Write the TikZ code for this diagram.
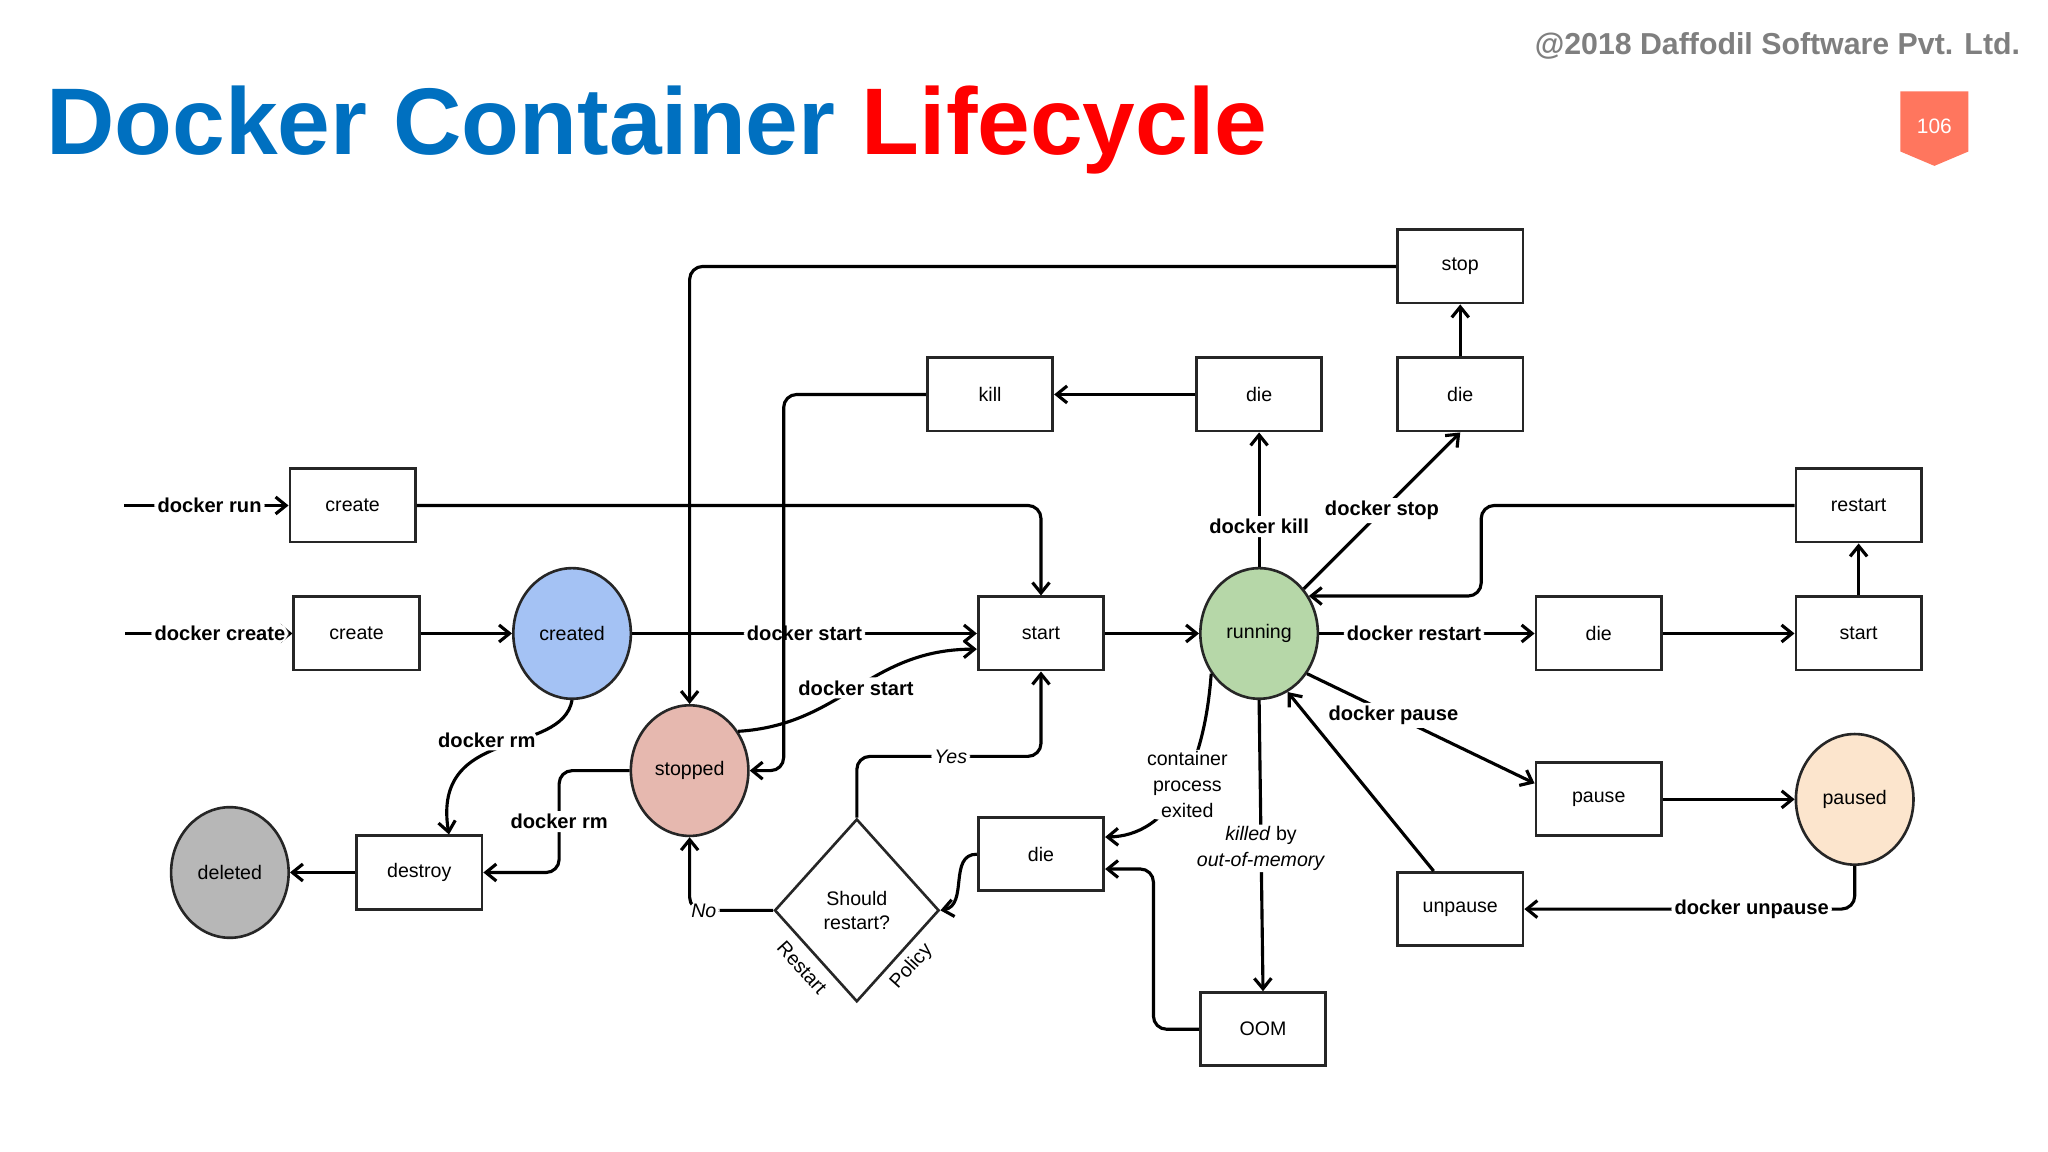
\documentclass[tikz,border=0pt]{standalone}
\usepackage{fontspec}
\setmainfont{Liberation Sans}
\usetikzlibrary{shapes.geometric,arrows.meta,calc}
\definecolor{tblue}{HTML}{0070C0}
\definecolor{tred}{HTML}{FF0000}
\definecolor{cgray}{HTML}{7F7F7F}
\definecolor{badge}{HTML}{FF765E}
\definecolor{fcreated}{HTML}{A4C2F4}
\definecolor{frunning}{HTML}{B6D7A8}
\definecolor{fstopped}{HTML}{E6B8AF}
\definecolor{fpaused}{HTML}{FCE5CD}
\definecolor{fdeleted}{HTML}{B7B7B7}
\definecolor{edge}{HTML}{262626}
\newcommand\bxfont{\fontsize{7.5}{10}\selectfont}
\newcommand\lbfont{\fontsize{7.7}{10}\selectfont}
\tikzset{
  box/.style={draw=edge, line width=1.1pt, minimum width=48pt, minimum height=28pt, inner sep=0pt, font=\bxfont, fill=white},
  state/.style={ellipse, draw=edge, line width=1pt, minimum width=45pt, minimum height=50pt, inner sep=0pt, font=\bxfont},
  lbl/.style={fill=white, inner sep=1.2pt, font=\lbfont\bfseries},
  ilbl/.style={fill=white, inner sep=1.2pt, font=\bxfont},
  conn/.style={line width=1.2pt, draw=black, rounded corners=5pt, -{Straight Barb[length=4pt,width=6.5pt]}},
}
\begin{document}
\begin{tikzpicture}[x=0.5pt,y=-0.5pt]
\useasboundingbox[fill=white] (0,0) rectangle (1568,882);

% header
\node[anchor=base west, inner sep=0pt, font=\fontsize{36.25}{40}\selectfont\bfseries] (title) at (35,118)
  {\textcolor{tblue}{Docker Container} \textcolor{tred}{Lifecycle}};
\node[anchor=base east, inner sep=0pt, text=cgray, font=\fontsize{11.6}{14}\selectfont\bfseries] (copy) at (1547,42)
  {@2018 Daffodil Software Pvt. Ltd.};
\fill[badge] (1455,70) -- (1507,70) -- (1507,116) -- (1481,127) -- (1455,116) -- cycle;
\node[text=white, font=\fontsize{8}{10}\selectfont] (page) at (1481,97) {106};

% nodes
\node[box] (stop) at (1118,204) {stop};
\node[box] (dieK) at (964,302) {die};
\node[box] (dieS) at (1118,302) {die};
\node[box] (kill) at (758,302) {kill};
\node[box] (createR) at (270,387) {create};
\node[box] (restart) at (1423,387) {restart};
\node[box] (createC) at (273,485) {create};
\node[state, fill=fcreated] (created) at (438,485) {created};
\node[box] (start) at (797,485) {start};
\node[state, fill=frunning] (running) at (964,485) {running};
\node[box] (dieR) at (1224,485) {die};
\node[box] (startR) at (1423,485) {start};
\node[state, fill=fstopped] (stopped) at (528,590) {stopped};
\node[state, fill=fdeleted] (deleted) at (176,668) {deleted};
\node[box] (destroy) at (321,668) {destroy};
\node[box] (pause) at (1224,612) {pause};
\node[state, fill=fpaused] (paused) at (1420,612) {paused};
\node[box] (unpause) at (1118,696) {unpause};
\node[box] (dieB) at (797,654) {die};
\node[box] (oom) at (967,788) {OOM};
\node[diamond, draw=edge, line width=1pt, minimum width=63pt, minimum height=70pt, inner sep=0pt,
      align=center, font=\bxfont] (decide) at (656,697) {Should\\[-1pt]restart?};
\node[rotate=-48, font=\bxfont, inner sep=0pt] (rlab) at (614,741) {Restart};
\node[rotate=48, font=\bxfont, inner sep=0pt] (plab) at (698,740) {Policy};

\coordinate (runIn) at (95,387);
\coordinate (createIn) at (96,485);

% connectors
\draw[conn] (runIn) -- node[lbl, pos=0.52] {docker run} (createR.west);
\draw[conn] (createIn) -- node[lbl, pos=0.566] {docker create} (createC.west);
\draw[conn] (createR.east) -| (start.north);
\draw[conn] (createC.east) -- (created.west);
\draw[conn] (created.east) -- node[lbl] {docker start} (start.west);
\draw[conn] (stopped.39) .. controls (645,555) and (665,497) .. node[lbl, pos=0.5] {docker start} ($(start.west)+(0,12)$);
\draw[conn] (start.east) -- (running.west);
\draw[conn] (running.north) -- node[lbl, pos=0.3] {docker kill} (dieK.south);
\draw[conn] (dieK.west) -- (kill.east);
\draw[conn] (kill.west) -| ($(stopped.east)+(26,0)$) -- (stopped.east);
\draw[conn] (stop.west) -| (stopped.north);
\draw[conn] (running.45) -- node[lbl, pos=0.5] {docker stop} (dieS.south);
\draw[conn] (dieS.north) -- (stop.south);
\draw[conn] (restart.west) -| ($(running.37)+(132,0)$) -- (running.37);
\draw[conn] (running.east) -- node[lbl, pos=0.44] {docker restart} (dieR.west);
\draw[conn] (dieR.east) -- (startR.west);
\draw[conn] (startR.north) -- (restart.south);
\draw[conn] (running.-40) -- node[lbl, pos=0.38] {docker pause} (pause.166);
\draw[conn] (pause.east) -- (paused.west);
\draw[conn] (paused.south) |- node[lbl, pos=0.656] {docker unpause} (unpause.east);
\draw[conn] (unpause.125) -- (running.-64);
\draw[conn] (running.south) -- node[ilbl, align=center, inner sep=0.6pt, yshift=-1pt] {\textit{killed} by\\\textit{out-of-memory}} (oom.north);
\draw[conn] (running.-140) .. controls (922,590) and (895,640) .. node[ilbl, align=center, inner sep=0.6pt, pos=0.5, xshift=3pt, yshift=2.5pt] {container\\process\\exited} (dieB.15);
\draw[conn] (oom.west) -| ($(dieB.-13)+(37,0)$) -- (dieB.-13);
\draw[conn] (dieB.west) to[out=180, in=10, looseness=1.1] (decide.east);
\draw[conn] (decide.north) |- node[ilbl, pos=0.755] {\textit{Yes}} ($(start.south)+(0,65)$) -- (start.south);
\draw[conn] (decide.west) -| node[ilbl, pos=0.415] {\textit{No}} (stopped.south);
\draw[conn] (stopped.west) -| node[lbl, pos=0.75] {docker rm} ($(destroy.east)+(58,0)$) -- (destroy.east);
\draw[conn] (created.south) .. controls (430,580) and (330,555) .. node[lbl, pos=0.5, xshift=-5pt, yshift=3pt] {docker rm} (destroy.52);
\draw[conn] (destroy.west) -- (deleted.east);
\end{tikzpicture}
\end{document}
